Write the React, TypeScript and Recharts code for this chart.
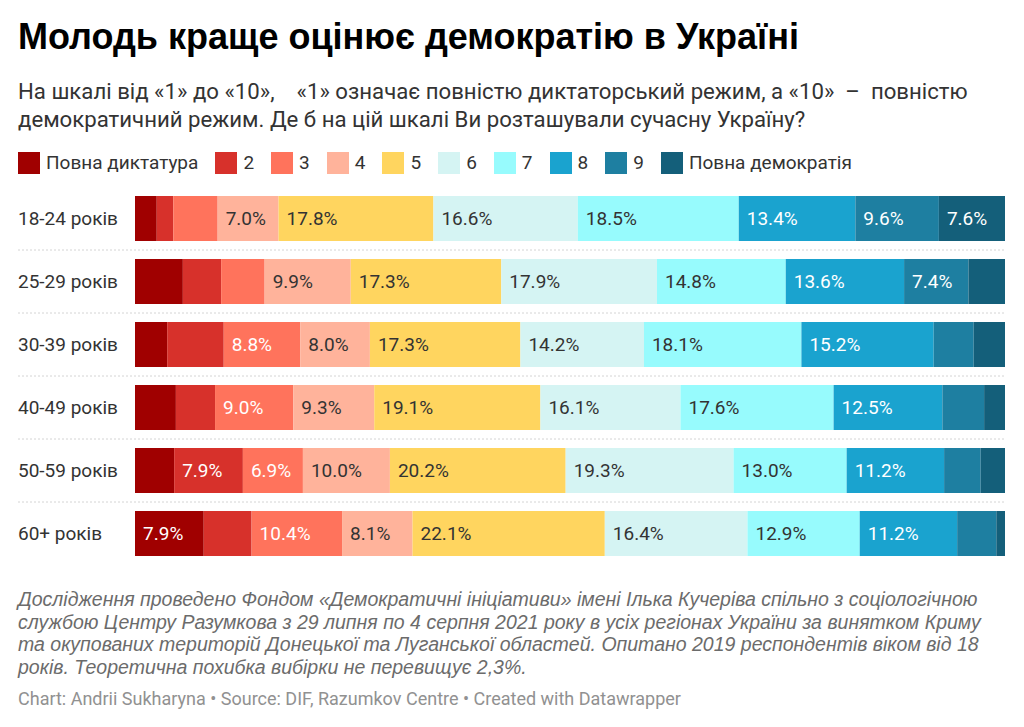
import { Bar, BarChart, LabelList, XAxis, YAxis } from "recharts";

const ages = ["18-24 років", "25-29 років", "30-39 років", "40-49 років", "50-59 років", "60+ років"];
const levels = ["Повна диктатура", "2", "3", "4", "5", "6", "7", "8", "9", "Повна демократія"];
const colors = ["#a00000", "#d7312b", "#ff735c", "#ffb39b", "#ffd55f", "#d5f4f3", "#97fbfd", "#1aa3cf", "#1e7fa1", "#145f7a"];
// which segments get white labels
const darkFill = [true, true, true, false, false, false, false, true, true, true];

// one list per scale point, rows in the order of `ages`
const level1 = [2.5, 5.5, 3.7, 4.7, 4.5, 7.9];
const level2 = [1.9, 4.4, 6.5, 4.5, 7.9, 5.5];
const level3 = [5.1, 5.0, 8.8, 9.0, 6.9, 10.4];
const level4 = [7.0, 9.9, 8.0, 9.3, 10.0, 8.1];
const level5 = [17.8, 17.3, 17.3, 19.1, 20.2, 22.1];
const level6 = [16.6, 17.9, 14.2, 16.1, 19.3, 16.4];
const level7 = [18.5, 14.8, 18.1, 17.6, 13.0, 12.9];
const level8 = [13.4, 13.6, 15.2, 12.5, 11.2, 11.2];
const level9 = [9.6, 7.4, 4.6, 4.8, 4.2, 4.5];
const level10 = [7.6, 4.2, 3.6, 2.4, 2.8, 1.0];

const series = [level1, level2, level3, level4, level5, level6, level7, level8, level9, level10];

const data = ages.map((age, i) => {
  const row: Record<string, string | number> = { age };
  series.forEach((s, k) => {
    row["v" + (k + 1)] = s[i];
  });
  return row;
});

const CHART_H = 378;
const band = CHART_H / ages.length;

function AgeTick(props: any) {
  const { y, payload, index } = props;
  return (
    <g>
      <text x={18} y={y} dominantBaseline="central" fontSize={19} fill="#333" fontFamily="Roboto">
        {payload.value}
      </text>
      {index < ages.length - 1 && (
        <line x1={18} x2={1004} y1={y + band / 2} y2={y + band / 2} stroke="#d4d4d4" strokeDasharray="2 2" />
      )}
    </g>
  );
}

function makeLabel(k: number) {
  return (props: any) => {
    const { x, y, height, value } = props;
    if (value == null || value < 6.8) return null;
    return (
      <text
        x={x + 8}
        y={y + height / 2}
        dominantBaseline="central"
        fontSize={19}
        fontFamily="Roboto"
        fill={darkFill[k] ? "#ffffff" : "#333333"}
      >
        {Number(value).toFixed(1)}%
      </text>
    );
  };
}

export default function App() {
  return (
    <div style={{ position: "relative", width: 1024, height: 727, background: "#fff", fontFamily: "Roboto", overflow: "hidden" }}>
      <style>{`body{margin:0}`}</style>
      <div
        style={{
          position: "absolute",
          left: 18,
          top: 19,
          fontFamily: "'Liberation Sans', Arial, sans-serif",
          fontWeight: 700,
          fontSize: 36,
          lineHeight: "36px",
          color: "#000",
          whiteSpace: "nowrap",
        }}
      >
        Молодь краще оцінює демократію в Україні
      </div>
      <div
        style={{
          position: "absolute",
          left: 18,
          top: 77,
          fontSize: 22.2,
          lineHeight: "28px",
          color: "#333",
          whiteSpace: "pre",
        }}
      >
        {"На шкалі від «1» до «10»,    «1» означає повністю диктаторський режим, а «10»  –  повністю\nдемократичний режим. Де б на цій шкалі Ви розташували сучасну Україну?"}
      </div>
      <div style={{ position: "absolute", left: 18, top: 152, display: "flex", alignItems: "center", height: 22 }}>
        {levels.map((name, k) => (
          <div key={name} style={{ display: "flex", alignItems: "center", marginRight: 17 }}>
            <div style={{ width: 22, height: 22, background: colors[k], marginRight: 6 }} />
            <span style={{ fontSize: 19, color: "#333", lineHeight: "22px" }}>{name}</span>
          </div>
        ))}
      </div>
      <div style={{ position: "absolute", left: 0, top: 187 }}>
        <BarChart
          width={1005}
          height={CHART_H}
          data={data}
          layout="vertical"
          margin={{ top: 0, right: 0, bottom: 0, left: 0 }}
          barSize={45}
        >
          <XAxis type="number" domain={[0, 100]} hide />
          <YAxis type="category" dataKey="age" width={135} axisLine={false} tickLine={false} tick={AgeTick} interval={0} />
          {series.map((_, k) => (
            <Bar key={k} dataKey={"v" + (k + 1)} stackId="a" fill={colors[k]} isAnimationActive={false}>
              <LabelList dataKey={"v" + (k + 1)} content={makeLabel(k)} />
            </Bar>
          ))}
        </BarChart>
      </div>
      <div
        style={{
          position: "absolute",
          left: 18,
          top: 588,
          fontFamily: "'Liberation Sans', Arial, sans-serif",
          fontStyle: "italic",
          fontSize: 19.5,
          lineHeight: "22.5px",
          color: "#6b6b6b",
          whiteSpace: "pre",
        }}
      >
        {"Дослідження проведено Фондом «Демократичні ініціативи» імені Ілька Кучеріва спільно з соціологічною\nслужбою Центру Разумкова з 29 липня по 4 серпня 2021 року в усіх регіонах України за винятком Криму\nта окупованих територій Донецької та Луганської областей. Опитано 2019 респондентів віком від 18\nроків. Теоретична похибка вибірки не перевищує 2,3%."}
      </div>
      <div
        style={{
          position: "absolute",
          left: 18,
          top: 688,
          fontSize: 18,
          lineHeight: "22px",
          color: "#919191",
          whiteSpace: "nowrap",
        }}
      >
        Chart: Andrii Sukharyna • Source: DIF, Razumkov Centre • Created with Datawrapper
      </div>
    </div>
  );
}
